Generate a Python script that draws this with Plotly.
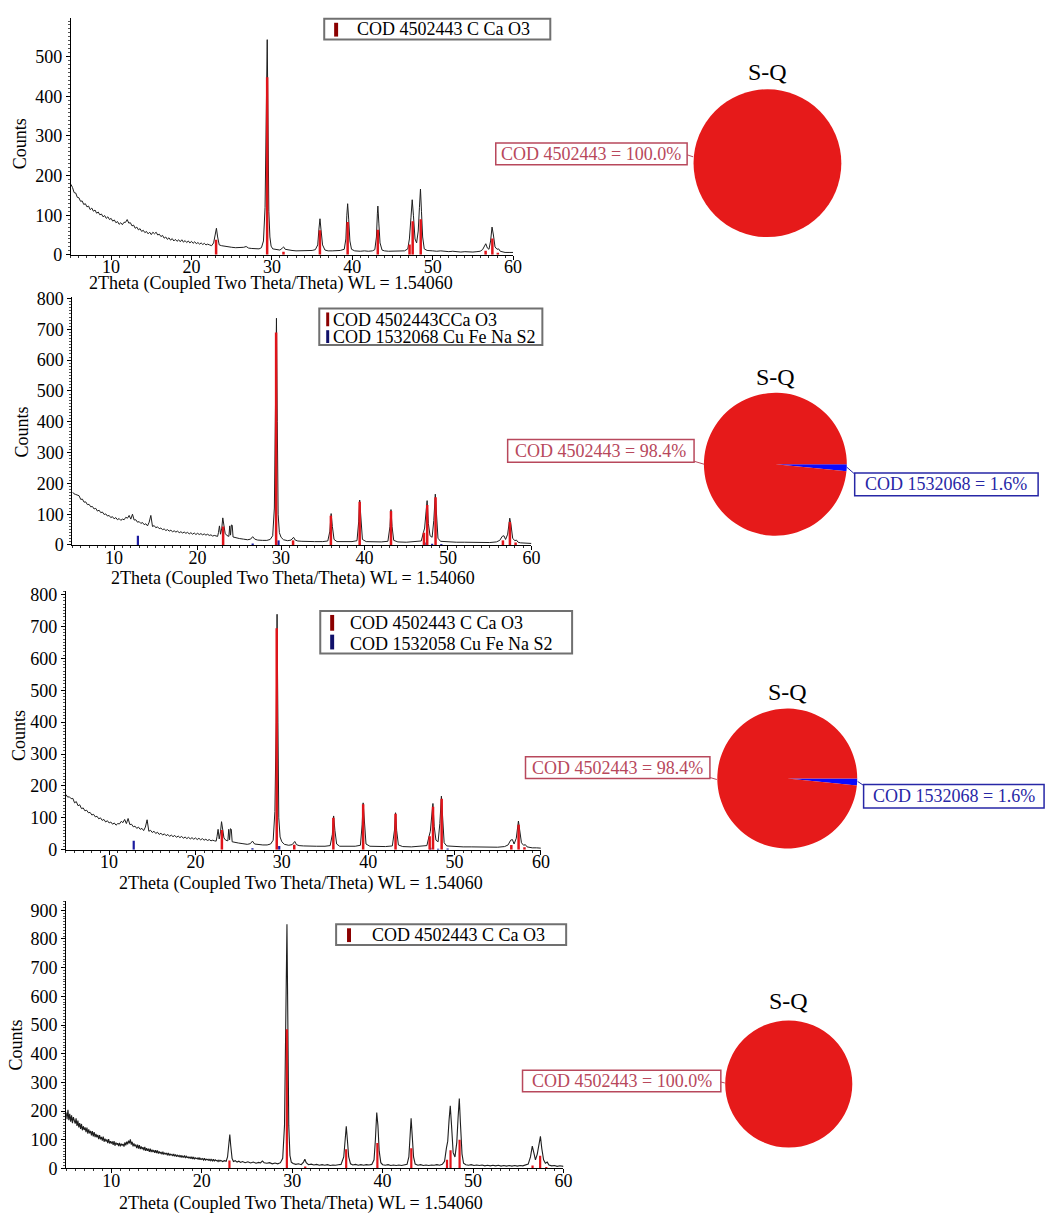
import plotly.graph_objects as go

W, H = 1061, 1226
SERIF = "Liberation Serif, Times New Roman, serif"

# ---------------- data ----------------
two_theta_ticks = [10, 20, 30, 40, 50, 60]
p1_count_ticks = [0, 100, 200, 300, 400, 500]
p2_count_ticks = [0, 100, 200, 300, 400, 500, 600, 700, 800]
p3_count_ticks = [0, 100, 200, 300, 400, 500, 600, 700, 800]
p4_count_ticks = [0, 100, 200, 300, 400, 500, 600, 700, 800, 900]

# low-angle part of each scan (regular step), counts
p1_low_start, p1_low_step = 5.0, 0.2
p1_low_counts = [178, 170, 157, 156, 145, 144, 135, 136, 127, 129,
                 121, 123, 114, 118, 110, 113, 105, 108, 101, 103,
                 96, 99, 92, 96, 89, 92, 85, 88, 81, 84,
                 77, 81, 76, 82, 82, 89, 80, 81, 73, 75,
                 67, 70, 63, 66, 59, 62, 56, 59, 53, 57,
                 51, 57, 53, 57, 50, 52, 46, 49, 42, 45,
                 39, 43, 37, 41, 35, 39, 34, 38, 33, 38,
                 32, 36, 31, 35, 30, 34, 29, 33, 28, 31,
                 27, 30, 26, 29, 25, 27]
p1_high = [(22.25, 25), (22.5, 23), (22.75, 30), (22.95, 55), (23.1, 67), (23.25, 45), (23.45, 25),
           (23.75, 23), (24.0, 22), (24.5, 21), (25.0, 19), (25.5, 18), (26.0, 18), (26.5, 19),
           (26.8, 21), (27.1, 17), (27.5, 16), (28.0, 15), (28.4, 15), (28.7, 18), (28.95, 35),
           (29.15, 120), (29.3, 330), (29.42, 543), (29.52, 330), (29.62, 110), (29.75, 45),
           (29.9, 22), (30.1, 15), (30.5, 13), (31.0, 12), (31.3, 17), (31.45, 20), (31.65, 14),
           (32.0, 12), (32.5, 11), (33.0, 10), (33.5, 10), (34.0, 11), (34.5, 10), (35.0, 11),
           (35.4, 13), (35.7, 25), (35.85, 65), (35.98, 91), (36.1, 65), (36.3, 25), (36.6, 12),
           (37.0, 10), (37.5, 10), (38.0, 10), (38.5, 11), (39.0, 14), (39.2, 40), (39.32, 100),
           (39.42, 129), (39.55, 90), (39.7, 35), (39.9, 14), (40.3, 10), (41.0, 9), (41.5, 10),
           (42.0, 9), (42.5, 10), (42.8, 13), (43.0, 45), (43.12, 105), (43.18, 123), (43.3, 80),
           (43.45, 30), (43.7, 12), (44.0, 10), (44.5, 9), (45.0, 9), (45.5, 9), (46.0, 10),
           (46.5, 10), (46.9, 15), (47.1, 40), (47.3, 95), (47.45, 139), (47.6, 100), (47.8, 40),
           (48.0, 30), (48.2, 60), (48.35, 120), (48.48, 166), (48.6, 110), (48.75, 45), (48.95, 15),
           (49.3, 11), (50.0, 10), (50.5, 9), (51.0, 10), (51.5, 9), (52.0, 8), (52.5, 9), (53.0, 8),
           (53.5, 7), (54.0, 8), (54.5, 7), (55.0, 7), (55.5, 8), (55.9, 9), (56.2, 13), (56.45, 22),
           (56.6, 28), (56.8, 17), (57.0, 14), (57.2, 35), (57.38, 70), (57.55, 50), (57.75, 20),
           (58.0, 14), (58.2, 15), (58.4, 9), (58.7, 7), (59.0, 6), (59.5, 6), (60.0, 6)]

p2_low_start, p2_low_step = 5.0, 0.2
p2_low_counts = [172, 166, 164, 162, 160, 148, 149, 139, 140, 131,
                 132, 124, 125, 117, 119, 110, 113, 105, 107, 99,
                 101, 94, 96, 89, 92, 85, 89, 82, 86, 80,
                 84, 82, 90, 87, 96, 84, 100, 81, 82, 74,
                 76, 70, 73, 66, 69, 62, 74, 96, 60, 63,
                 56, 59, 53, 55, 50, 52, 47, 50, 45, 48,
                 43, 46, 42, 45, 40, 43, 39, 42, 38, 41,
                 36, 40, 35, 39, 34, 38, 34, 37, 33, 36,
                 32, 35, 31, 33, 29, 31]
p2_high = [(22.2, 29), (22.4, 28), (22.5, 40), (22.62, 62), (22.75, 35), (22.9, 55), (23.02, 88),
           (23.15, 60), (23.3, 38), (23.5, 31), (23.75, 28), (23.85, 62), (23.95, 32), (24.05, 65),
           (24.15, 64), (24.25, 26), (24.5, 24), (25.0, 21), (25.5, 19), (26.0, 17), (26.35, 19),
           (26.6, 27), (26.85, 19), (27.2, 16), (27.8, 15), (28.3, 15), (28.7, 18), (29.0, 30),
           (29.2, 120), (29.35, 400), (29.45, 736), (29.55, 400), (29.65, 100), (29.8, 40),
           (30.0, 25), (30.3, 17), (30.8, 14), (31.2, 16), (31.5, 25), (31.7, 16), (32.0, 13),
           (32.5, 12), (33.0, 11), (34.0, 11), (35.0, 11), (35.6, 13), (35.85, 45), (36.0, 102),
           (36.15, 60), (36.35, 18), (36.7, 11), (37.5, 10), (38.5, 11), (39.1, 14), (39.3, 75),
           (39.42, 146), (39.55, 80), (39.75, 18), (40.2, 11), (41.0, 10), (42.0, 10), (42.8, 12),
           (43.05, 60), (43.17, 115), (43.3, 60), (43.5, 15), (44.0, 10), (45.0, 9), (46.0, 10),
           (46.8, 13), (47.05, 40), (47.2, 55), (47.38, 110), (47.5, 144), (47.65, 70), (47.85, 30),
           (48.1, 25), (48.3, 80), (48.48, 165), (48.62, 90), (48.8, 22), (49.1, 12), (50.0, 10),
           (51.0, 9), (52.0, 9), (53.0, 8), (54.0, 8), (55.0, 8), (55.8, 10), (56.2, 15), (56.5, 28),
           (56.7, 30), (56.9, 18), (57.15, 35), (57.4, 87), (57.55, 65), (57.75, 22), (58.0, 14),
           (58.2, 16), (58.4, 9), (58.7, 7), (59.0, 6), (59.5, 6), (60.0, 5)]

p3_low_start, p3_low_step = 5.0, 0.2
p3_low_counts = [173, 165, 166, 160, 161, 147, 151, 138, 141, 129,
                 131, 122, 124, 116, 117, 109, 111, 103, 105, 97,
                 100, 92, 95, 87, 91, 84, 87, 80, 84, 77,
                 82, 81, 89, 85, 95, 82, 98, 79, 80, 72,
                 74, 67, 71, 64, 67, 60, 71, 94, 58, 61,
                 54, 58, 51, 55, 48, 52, 46, 50, 44, 48,
                 42, 46, 41, 45, 39, 43, 38, 42, 36, 40,
                 35, 39, 34, 38, 33, 37, 32, 36, 31, 35,
                 30, 33, 29, 32, 28, 30]
p3_high = [(22.2, 28), (22.4, 27), (22.5, 42), (22.62, 64), (22.75, 34), (22.9, 56), (23.02, 88),
           (23.15, 58), (23.3, 37), (23.5, 30), (23.75, 28), (23.85, 64), (23.95, 31), (24.05, 66),
           (24.15, 64), (24.25, 25), (24.5, 23), (25.0, 21), (25.5, 19), (26.0, 17), (26.35, 19),
           (26.6, 27), (26.85, 18), (27.2, 16), (27.8, 15), (28.3, 15), (28.7, 18), (29.0, 30),
           (29.2, 120), (29.35, 400), (29.45, 738), (29.55, 400), (29.65, 100), (29.8, 40),
           (30.0, 25), (30.3, 17), (30.8, 14), (31.2, 16), (31.5, 26), (31.7, 16), (32.0, 13),
           (32.5, 12), (33.0, 11), (34.0, 11), (35.0, 11), (35.6, 13), (35.85, 48), (36.0, 106),
           (36.15, 60), (36.35, 18), (36.7, 11), (37.5, 10), (38.5, 11), (39.1, 14), (39.3, 78),
           (39.42, 147), (39.55, 80), (39.75, 18), (40.2, 11), (41.0, 10), (42.0, 10), (42.8, 12),
           (43.05, 62), (43.17, 116), (43.3, 60), (43.5, 15), (44.0, 10), (45.0, 9), (46.0, 10),
           (46.8, 13), (47.05, 42), (47.2, 58), (47.38, 112), (47.5, 145), (47.65, 72), (47.85, 30),
           (48.1, 25), (48.3, 82), (48.48, 168), (48.62, 90), (48.8, 22), (49.1, 12), (50.0, 10),
           (51.0, 9), (52.0, 9), (53.0, 8), (54.0, 8), (55.0, 8), (55.8, 10), (56.2, 15), (56.5, 30),
           (56.7, 32), (56.9, 18), (57.15, 36), (57.4, 90), (57.55, 66), (57.75, 22), (58.0, 14),
           (58.2, 16), (58.4, 9), (58.7, 7), (59.0, 6), (59.5, 6), (60.0, 5)]

p4_low_start, p4_low_step = 5.0, 0.1
p4_low_counts = [195, 172, 204, 168, 190, 163, 185, 158, 179, 166,
                 156, 175, 148, 167, 143, 158, 138, 155, 133, 147,
                 134, 143, 126, 142, 121, 136, 122, 131, 115, 130,
                 112, 127, 109, 120, 108, 117, 102, 116, 101, 110,
                 97, 111, 93, 104, 94, 101, 88, 102, 87, 95,
                 87, 94, 82, 95, 79, 90, 83, 88, 78, 89,
                 77, 86, 81, 85, 76, 91, 80, 93, 84, 97,
                 87, 101, 83, 93, 77, 87, 77, 83, 71, 83,
                 69, 81, 67, 77, 67, 74, 63, 75, 61, 71,
                 61, 69, 58, 69, 57, 65, 57, 64, 54, 64,
                 53, 63, 52, 59, 53, 57, 49, 58, 48, 55,
                 49, 54, 46, 54, 45, 51, 46, 49, 43, 50,
                 42, 49, 41, 46, 42, 45, 39, 46, 38, 43,
                 38, 45, 36, 42, 38, 40, 35, 41, 34, 41,
                 33, 40, 32, 37, 34, 36, 31, 38, 30, 35,
                 31, 34, 29, 35, 29, 32, 30, 32, 27, 33,
                 27, 31, 26, 32, 25, 30, 27, 28, 24, 29,
                 25]
p4_high = [(22.1, 28), (22.3, 24), (22.5, 27), (22.7, 25), (22.85, 40), (23.0, 85), (23.1, 118),
           (23.2, 80), (23.35, 35), (23.5, 24), (23.7, 27), (23.9, 22), (24.1, 25), (24.3, 21),
           (24.5, 24), (24.8, 20), (25.1, 23), (25.4, 19), (25.7, 22), (26.0, 18), (26.3, 21),
           (26.5, 19), (26.7, 26), (26.9, 20), (27.2, 18), (27.5, 20), (27.8, 16), (28.1, 19),
           (28.4, 16), (28.7, 20), (28.95, 35), (29.15, 150), (29.3, 500), (29.42, 851),
           (29.52, 500), (29.62, 150), (29.75, 45), (29.9, 22), (30.1, 17), (30.4, 14), (30.7, 16),
           (31.0, 13), (31.25, 22), (31.4, 32), (31.55, 20), (31.8, 13), (32.1, 15), (32.4, 12),
           (32.7, 14), (33.0, 11), (33.3, 13), (33.6, 11), (33.9, 13), (34.2, 10), (34.5, 12),
           (34.8, 11), (35.1, 13), (35.4, 14), (35.7, 40), (35.85, 100), (35.98, 147), (36.1, 100),
           (36.25, 40), (36.45, 16), (36.7, 12), (37.0, 14), (37.3, 11), (37.6, 13), (37.9, 11),
           (38.2, 13), (38.5, 12), (38.8, 14), (39.05, 30), (39.2, 100), (39.35, 195), (39.48, 150),
           (39.62, 60), (39.8, 20), (40.0, 13), (40.3, 11), (40.6, 13), (40.9, 10), (41.2, 12),
           (41.5, 10), (41.8, 12), (42.1, 10), (42.4, 13), (42.7, 14), (42.9, 40), (43.05, 120),
           (43.15, 175), (43.28, 110), (43.42, 40), (43.6, 15), (43.9, 11), (44.2, 13), (44.5, 10),
           (44.8, 12), (45.1, 10), (45.4, 12), (45.7, 11), (46.0, 13), (46.3, 11), (46.6, 14),
           (46.85, 25), (47.05, 70), (47.2, 95), (47.35, 170), (47.48, 218), (47.62, 150),
           (47.8, 55), (48.0, 40), (48.2, 90), (48.35, 180), (48.48, 244), (48.6, 160), (48.78, 50),
           (48.95, 18), (49.2, 13), (49.5, 11), (49.8, 13), (50.1, 10), (50.4, 12), (50.7, 10),
           (51.0, 12), (51.3, 9), (51.6, 11), (51.9, 9), (52.2, 11), (52.5, 9), (52.8, 11), (53.1, 8),
           (53.4, 10), (53.7, 8), (54.0, 10), (54.3, 8), (54.6, 10), (54.9, 8), (55.2, 10), (55.5, 9),
           (55.8, 11), (56.1, 15), (56.35, 40), (56.55, 78), (56.72, 55), (56.9, 30), (57.1, 50),
           (57.3, 95), (57.45, 112), (57.6, 70), (57.8, 30), (58.0, 18), (58.2, 22), (58.4, 12),
           (58.7, 9), (59.0, 10), (59.3, 7), (59.6, 9), (60.0, 7)]

# reference patterns (stick positions / heights)
calcite_2theta = [23.06, 29.41, 31.44, 35.97, 39.42, 43.17, 47.12, 47.51, 48.51, 56.58, 57.42, 58.10]
p1_calcite_counts = [38, 448, 8, 62, 83, 63, 26, 85, 90, 10, 41, 5]
p2_calcite_counts = [60, 690, 15, 95, 140, 110, 40, 130, 155, 15, 75, 8]
p3_calcite_counts = [62, 694, 16, 100, 143, 113, 42, 135, 160, 15, 78, 8]
p4_calcite_counts = [28, 485, 7, 67, 89, 70, 30, 63, 100, 10, 44, 5]
cufe_2theta = [12.85, 26.6, 29.7, 47.2, 48.1, 49.2]
p2_cufe_counts = [30, 5, 15, 8, 4, 3]
p3_cufe_counts = [28, 5, 12, 6, 3, 4]

legend1 = ["COD 4502443 C Ca O3"]
legend2 = ["COD 4502443CCa O3", "COD 1532068 Cu Fe Na S2"]
legend3 = ["COD 4502443 C Ca O3", "COD 1532058 Cu Fe Na S2"]
legend4 = ["COD 4502443 C Ca O3"]

pie_title = "S-Q"
pie_phase_names = ["COD 4502443", "COD 1532068"]
pie1_values = [100.0]
pie2_values = [98.4, 1.6]
pie3_values = [98.4, 1.6]
pie4_values = [100.0]

x_title = "2Theta (Coupled Two Theta/Theta) WL = 1.54060"
y_title = "Counts"

# ---------------- helpers ----------------
def fx(px):
    return px / W


def fy(py):
    return 1 - py / H


def scan(start, step, low_counts, high_pairs):
    tt = [round(start + i * step, 3) for i in range(len(low_counts))]
    tt += [p[0] for p in high_pairs]
    cnt = list(low_counts) + [p[1] for p in high_pairs]
    return tt, cnt


def sticks(pos, hts):
    xs, ys = [], []
    for p, h in zip(pos, hts):
        xs += [p, p, None]
        ys += [0, h, None]
    return xs, ys


RED = "#e0141a"
DARKRED = "#8b0000"
BLUE = "#1c1ca0"
LBL_RED = "#b8485c"
LBL_BLUE = "#2727a6"

fig = go.Figure()

panels = [
    dict(scan=scan(p1_low_start, p1_low_step, p1_low_counts, p1_high), red=p1_calcite_counts, blue=None,
         box=(71.5, 10, 517.5, 250.5), yr=598, yt=p1_count_ticks, lw=1.0, sw=2.5),
    dict(scan=scan(p2_low_start, p2_low_step, p2_low_counts, p2_high), red=p2_calcite_counts, blue=p2_cufe_counts,
         box=(73, 293, 536, 545), yr=806, yt=p2_count_ticks, lw=1.0, sw=2.5),
    dict(scan=scan(p3_low_start, p3_low_step, p3_low_counts, p3_high), red=p3_calcite_counts, blue=p3_cufe_counts,
         box=(66.5, 592, 545.5, 854.3), yr=810, yt=p3_count_ticks, lw=1.0, sw=2.5),
    dict(scan=scan(p4_low_start, p4_low_step, p4_low_counts, p4_high), red=p4_calcite_counts, blue=None,
         box=(66.7, 906.7, 568.3, 1177.7), yr=931, yt=p4_count_ticks, lw=1.1, sw=2.2),
]

layout_axes = {}
for i, pnl in enumerate(panels, start=1):
    xa = "x" if i == 1 else f"x{i}"
    ya = "y" if i == 1 else f"y{i}"
    tt, cnt = pnl["scan"]
    fig.add_trace(go.Scatter(x=tt, y=cnt, mode="lines", line=dict(color="#1e1e1e", width=pnl["lw"]),
                             xaxis=xa, yaxis=ya, showlegend=False, hoverinfo="skip"))
    if pnl["blue"] is not None:
        bx, by = sticks(cufe_2theta, pnl["blue"])
        fig.add_trace(go.Scatter(x=bx, y=by, mode="lines", line=dict(color=BLUE, width=2.2),
                                 xaxis=xa, yaxis=ya, showlegend=False, hoverinfo="skip"))
    rx, ry = sticks(calcite_2theta, pnl["red"])
    fig.add_trace(go.Scatter(x=rx, y=ry, mode="lines", line=dict(color=RED, width=pnl["sw"]),
                             xaxis=xa, yaxis=ya, showlegend=False, hoverinfo="skip"))
    x0, y0, x1, y1 = pnl["box"]
    common = dict(showgrid=False, zeroline=False, showline=True, linecolor="black", linewidth=1,
                  ticks="outside", ticklen=4, tickwidth=1, tickcolor="black",
                  tickfont=dict(family=SERIF, size=18, color="black"))
    layout_axes["xaxis" if i == 1 else f"xaxis{i}"] = dict(
        domain=[fx(x0), fx(x1)], range=[5, 60], anchor=ya, tickvals=two_theta_ticks,
        ticklabelstandoff=-8,
        minor=dict(dtick=1, tick0=5, ticklen=2, ticks="outside", tickcolor="#333"), **common)
    layout_axes["yaxis" if i == 1 else f"yaxis{i}"] = dict(
        domain=[fy(y1), fy(y0)], range=[0, pnl["yr"]], anchor=xa, tickvals=pnl["yt"],
        minor=dict(dtick=10, ticklen=2, ticks="outside", tickcolor="#555"), **common)

# ---------------- pies ----------------
pies = [
    dict(values=pie1_values, c=(774, 157.5), r=75, title_y=65),
    dict(values=pie2_values, c=(782, 463), r=72.5, title_y=375),
    dict(values=pie3_values, c=(794, 782), r=71, title_y=694),
    dict(values=pie4_values, c=(795.5, 1092), r=64.5, title_y=1008),
]
for pie in pies:
    cx, cy = pie["c"]
    r = pie["r"]
    vals = pie["values"]
    if len(vals) == 2:
        v = [vals[1], vals[0]]
        cols = ["#0a0aff", "#e61a1a"]
        labs = [pie_phase_names[1], pie_phase_names[0]]
    else:
        v = vals
        cols = ["#e61a1a"]
        labs = [pie_phase_names[0]]
    fig.add_trace(go.Pie(values=v, labels=labs, sort=False, direction="clockwise", rotation=90,
                         marker=dict(colors=cols, line=dict(width=0)), textinfo="none",
                         domain=dict(x=[fx(cx - r), fx(cx + r)], y=[fy(cy + r), fy(cy - r)]),
                         showlegend=False, hoverinfo="label+percent"))

shapes = []
annotations = []

# axis titles
for (xc, yc) in [(273.5, 280), (295.5, 579), (303.5, 889), (303.3, 1213)]:
    annotations.append(dict(x=fx(xc), y=fy(yc), xref="paper", yref="paper", text=x_title, showarrow=False,
                            xanchor="center", yanchor="middle", font=dict(family=SERIF, size=18, color="black")))
for (xc, yc) in [(20.5, 138), (22, 430), (19, 738), (16, 1052)]:
    annotations.append(dict(x=fx(xc), y=fy(yc), xref="paper", yref="paper", text=y_title, showarrow=False,
                            textangle=-90, xanchor="center", yanchor="middle",
                            font=dict(family=SERIF, size=18, color="black")))


def rect(x0, y0, x1, y1, line_color, lw, fill="white"):
    shapes.append(dict(type="rect", xref="paper", yref="paper", x0=fx(x0), x1=fx(x1), y0=fy(y1), y1=fy(y0),
                       line=dict(color=line_color, width=lw), fillcolor=fill, layer="above"))


def text(x, y, s, color="black", size=18, anchor="left"):
    annotations.append(dict(x=fx(x), y=fy(y), xref="paper", yref="paper", text=s, showarrow=False,
                            xanchor=anchor, yanchor="middle", font=dict(family=SERIF, size=size, color=color)))


def seg(x0, y0, x1, y1, color):
    shapes.append(dict(type="line", xref="paper", yref="paper", x0=fx(x0), x1=fx(x1), y0=fy(y0), y1=fy(y1),
                       line=dict(color=color, width=1), layer="above"))


# legends
rect(327, 11, 555, 32, "#707070", 2)
rect(337, 15, 341, 29, DARKRED, 0, fill=DARKRED)
text(358, 21.5, legend1[0])

rect(322, 305, 547, 342, "#707070", 2)
rect(329, 309, 332, 323, DARKRED, 0, fill=DARKRED)
rect(329, 327, 332, 340, "#10106a", 0, fill="#10106a")
text(334, 316.5, legend2[0])
text(334, 333.5, legend2[1])

rect(323, 612, 577, 655, "#707070", 2)
rect(333, 616, 337, 632, DARKRED, 0, fill=DARKRED)
rect(333, 636, 337, 651, "#10106a", 0, fill="#10106a")
text(351, 624, legend3[0])
text(351, 645, legend3[1])

rect(339, 930, 571, 951, "#707070", 2)
rect(350, 934, 354, 948, DARKRED, 0, fill=DARKRED)
text(373, 940.5, legend4[0])

# pie titles and labels
for pie in pies:
    text(pie["c"][0], pie["title_y"], pie_title, size=24, anchor="center")

lab1 = f"{pie_phase_names[0]} = {pie1_values[0]:.1f}%"
lab2r = f"{pie_phase_names[0]} = {pie2_values[0]:.1f}%"
lab2b = f"{pie_phase_names[1]} = {pie2_values[1]:.1f}%"
lab3r = f"{pie_phase_names[0]} = {pie3_values[0]:.1f}%"
lab3b = f"{pie_phase_names[1]} = {pie3_values[1]:.1f}%"
lab4 = f"{pie_phase_names[0]} = {pie4_values[0]:.1f}%"

rect(500, 137, 693, 159, LBL_RED, 1.5)
text(596.5, 148, lab1, color=LBL_RED, anchor="center")
seg(693, 149, 699, 151, LBL_RED)

rect(512, 438, 700, 461, LBL_RED, 1.5)
text(606, 449.5, lab2r, color=LBL_RED, anchor="center")
seg(700, 460, 710, 463, LBL_RED)
rect(862, 472, 1047, 495, LBL_BLUE, 1.5)
text(954.5, 483.5, lab2b, color=LBL_BLUE, anchor="center")
seg(854, 466, 862, 473, LBL_BLUE)

rect(530, 760, 716, 782, LBL_RED, 1.5)
text(623, 771, lab3r, color=LBL_RED, anchor="center")
seg(716, 781, 723, 783, LBL_RED)
rect(871, 788, 1053, 812, LBL_BLUE, 1.5)
text(962, 800, lab3b, color=LBL_BLUE, anchor="center")
seg(865, 785, 871, 789, LBL_BLUE)

rect(527, 1078, 727, 1100, LBL_RED, 1.5)
text(627, 1089, lab4, color=LBL_RED, anchor="center")
seg(727, 1090, 731, 1091, LBL_RED)

fig.update_layout(width=W, height=H, margin=dict(l=0, r=0, t=0, b=0), paper_bgcolor="white",
                  plot_bgcolor="white", shapes=shapes, annotations=annotations,
                  font=dict(family=SERIF, size=18, color="black"), **layout_axes)

fig.write_html("out.html", config={"displayModeBar": False},
               post_script="document.body.style.margin='0px';document.body.style.padding='0px';"
                           "document.body.style.overflow='hidden';")
